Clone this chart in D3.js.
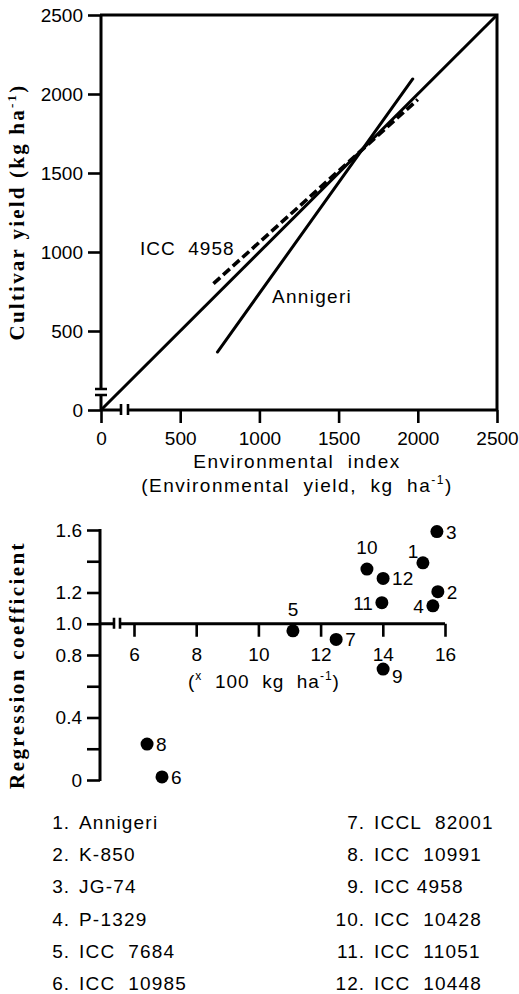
<!DOCTYPE html>
<html>
<head>
<meta charset="utf-8">
<script src="https://cdn.jsdelivr.net/npm/d3@7/dist/d3.min.js"></script>
<style>
  html, body { margin: 0; padding: 0; background: #fff; }
  svg { display: block; }
  text { font-family: "Liberation Sans", Arial, sans-serif; fill: #000; }
  .title { font-family: "Liberation Serif", "Times New Roman", serif; font-weight: bold; }
</style>
</head>
<body>
<svg id="chart" width="519" height="994"></svg>
<script>
// ---- Upper panel: cultivar yield vs environmental index ----
const topTicks = [0, 500, 1000, 1500, 2000, 2500];
const lineLabels = ["ICC 4958", "Annigeri"];
const equalityLine = [[0, 0], [2500, 2500]];
const icc4958Line = [[710, 800], [2000, 1965]];
const annigeriLine = [[735, 367], [1968, 2095]];

// ---- Lower panel: regression coefficient vs mean yield ----
const cultivarIds = [1, 2, 3, 4, 5, 6, 7, 8, 9, 10, 11, 12];
const cultivarNames = ["Annigeri", "K-850", "JG-74", "P-1329", "ICC  7684", "ICC  10985",
  "ICCL  82001", "ICC  10991", "ICC 4958", "ICC  10428", "ICC  11051", "ICC  10448"];
const meanYield = [15.29, 15.77, 15.74, 15.61, 11.11, 6.90, 12.50, 6.42, 14.01, 13.49, 13.97, 14.01];
const regCoef = [1.39, 1.205, 1.59, 1.115, 0.955, 0.02, 0.90, 0.23, 0.71, 1.35, 1.135, 1.29];
const bottomXTicks = [6, 8, 10, 12, 14, 16];
const bottomYTicks = [0, 0.2, 0.4, 0.6, 0.8, 1.0, 1.2, 1.4, 1.6];
const bottomYLabelled = [0, 0.4, 0.8, 1.0, 1.2, 1.6];

// where each point's number sits relative to its dot
const labelSide = ["aboveLeft", "right", "right", "left", "above", "right",
  "right", "right", "belowRight", "above", "left", "right"];

const svg = d3.select("#chart");
const ink = "#000";
const nb = s => s.replace(/ /g, "\u00a0");

function styleAxis(g, size) {
  g.select(".domain").remove();
  g.selectAll(".tick line").attr("stroke", ink).attr("stroke-width", 2.6);
  g.selectAll(".tick text").attr("font-size", size).attr("fill", ink)
    .attr("font-family", "Liberation Sans, Arial, sans-serif");
}

// ===== upper panel =====
const xT = d3.scaleLinear().domain([0, 2500]).range([101, 497]);
const yT = d3.scaleLinear().domain([0, 2500]).range([410, 15]);
const upper = svg.append("g");

upper.append("g").attr("transform", `translate(${xT(0)},0)`)
  .call(d3.axisLeft(yT).tickValues(topTicks).tickSize(13).tickPadding(5).tickFormat(d3.format("d")))
  .call(g => styleAxis(g, 19));
upper.append("g").attr("transform", `translate(0,${yT(0)})`)
  .call(d3.axisBottom(xT).tickValues(topTicks).tickSize(13).tickPadding(9).tickFormat(d3.format("d")))
  .call(g => styleAxis(g, 19));

const frame = d3.path();
// left axis with break near the origin
frame.moveTo(xT(0), yT(0)); frame.lineTo(xT(0), 395);
frame.moveTo(xT(0), 389); frame.lineTo(xT(0), yT(2500));
// bottom axis with break near the origin
frame.moveTo(xT(0), yT(0)); frame.lineTo(121, yT(0));
frame.moveTo(128, yT(0)); frame.lineTo(xT(2500), yT(0));
// top and right border
frame.moveTo(xT(0) - 1, yT(2500)); frame.lineTo(xT(2500), yT(2500)); frame.lineTo(xT(2500), yT(0));
upper.append("path").attr("d", frame.toString()).attr("fill", "none")
  .attr("stroke", ink).attr("stroke-width", 3);

const breaks = d3.path();
breaks.moveTo(95, 389); breaks.lineTo(107, 389);
breaks.moveTo(95, 395); breaks.lineTo(107, 395);
breaks.moveTo(121, yT(0) - 6); breaks.lineTo(121, yT(0) + 5);
breaks.moveTo(128, yT(0) - 6); breaks.lineTo(128, yT(0) + 5);
upper.append("path").attr("d", breaks.toString()).attr("fill", "none")
  .attr("stroke", ink).attr("stroke-width", 2.6);

const line = d3.line().x(d => xT(d[0])).y(d => yT(d[1]));
upper.append("path").datum(equalityLine).attr("d", line)
  .attr("fill", "none").attr("stroke", ink).attr("stroke-width", 3);
upper.append("path").datum(annigeriLine).attr("d", line)
  .attr("fill", "none").attr("stroke", ink).attr("stroke-width", 3).attr("stroke-linecap", "round");
upper.append("path").datum(icc4958Line).attr("d", line)
  .attr("fill", "none").attr("stroke", ink).attr("stroke-width", 3.6)
  .attr("stroke-dasharray", "9,4");

upper.append("text").attr("x", 140).attr("y", 255).attr("font-size", 19)
  .attr("letter-spacing", 1).text(nb(lineLabels[0].replace(" ", "  ")));
upper.append("text").attr("x", 272).attr("y", 303).attr("font-size", 19)
  .attr("letter-spacing", 1.3).text(lineLabels[1]);

upper.append("text").attr("x", 297).attr("y", 468).attr("text-anchor", "middle")
  .attr("font-size", 19).attr("letter-spacing", 1.5).text(nb("Environmental  index"));
const sub = upper.append("text").attr("x", 297).attr("y", 492).attr("text-anchor", "middle")
  .attr("font-size", 19).attr("letter-spacing", 1.5);
sub.append("tspan").text(nb("(Environmental  yield,  kg  ha"));
sub.append("tspan").attr("font-size", 12).attr("dy", -8).text("-1");
sub.append("tspan").attr("dy", 8).text(")");

const yTitle = upper.append("text").attr("class", "title")
  .attr("transform", "translate(24,212) rotate(-90)").attr("text-anchor", "middle")
  .attr("font-size", 21).attr("letter-spacing", 2.2);
yTitle.append("tspan").text(nb("Cultivar yield (kg ha"));
yTitle.append("tspan").attr("font-size", 13).attr("dy", -8).text("-1");
yTitle.append("tspan").attr("dy", 8).text(")");

// ===== lower panel =====
const xB = d3.scaleLinear().domain([6, 16]).range([134, 445]);
const yB = d3.scaleLinear().domain([0, 1.6]).range([780, 530]);
const lower = svg.append("g");

lower.append("g").attr("transform", `translate(100,0)`)
  .call(d3.axisLeft(yB).tickValues(bottomYTicks).tickSize(13).tickPadding(5)
    .tickFormat(v => bottomYLabelled.some(t => Math.abs(t - v) < 1e-9) ? (v === 0 ? "0" : v.toFixed(1)) : ""))
  .call(g => styleAxis(g, 19));
lower.append("g").attr("transform", `translate(0,${yB(1.0)})`)
  .call(d3.axisBottom(xB).tickValues(bottomXTicks).tickSize(13).tickPadding(11))
  .call(g => styleAxis(g, 19));

const bFrame = d3.path();
bFrame.moveTo(100, yB(1.6) - 1); bFrame.lineTo(100, yB(0) + 1);
bFrame.moveTo(100, yB(1.0)); bFrame.lineTo(114, yB(1.0));
bFrame.moveTo(120, yB(1.0)); bFrame.lineTo(xB(16), yB(1.0));
lower.append("path").attr("d", bFrame.toString()).attr("fill", "none")
  .attr("stroke", ink).attr("stroke-width", 3);
const bBreaks = d3.path();
bBreaks.moveTo(114, yB(1.0) - 6); bBreaks.lineTo(114, yB(1.0) + 5);
bBreaks.moveTo(120, yB(1.0) - 6); bBreaks.lineTo(120, yB(1.0) + 5);
lower.append("path").attr("d", bBreaks.toString()).attr("fill", "none")
  .attr("stroke", ink).attr("stroke-width", 2.6);

const unit = lower.append("text").attr("x", 188).attr("y", 688).attr("font-size", 19)
  .attr("letter-spacing", 1);
unit.append("tspan").text("(");
unit.append("tspan").attr("font-size", 12).attr("dy", -8).text("x");
unit.append("tspan").attr("dy", 8).text(nb("  100  kg  ha"));
unit.append("tspan").attr("font-size", 12).attr("dy", -8).text("-1");
unit.append("tspan").attr("dy", 8).text(")");

const points = cultivarIds.map((id, i) => ({ id, x: meanYield[i], y: regCoef[i], side: labelSide[i] }));
lower.selectAll("circle.pt").data(points).join("circle").attr("class", "pt")
  .attr("cx", d => xB(d.x)).attr("cy", d => yB(d.y)).attr("r", 6.5).attr("fill", ink);

const offsets = {
  right: [9, 7, "start"], left: [-9, 7, "end"], above: [0, -15, "middle"],
  aboveLeft: [-10, -5, "middle"], belowRight: [9, 14, "start"]
};
lower.selectAll("text.pl").data(points).join("text").attr("class", "pl")
  .attr("x", d => xB(d.x) + offsets[d.side][0])
  .attr("y", d => yB(d.y) + offsets[d.side][1])
  .attr("text-anchor", d => offsets[d.side][2])
  .attr("font-size", 19).text(d => d.id);

lower.append("text").attr("class", "title")
  .attr("transform", "translate(24,665) rotate(-90)").attr("text-anchor", "middle")
  .attr("font-size", 21).attr("letter-spacing", 2.4).text("Regression coefficient");

// ===== key to cultivar numbers =====
const key = svg.append("g");
const rowY = i => 829 + 32.2 * (i % 6);
key.selectAll("text.num").data(cultivarIds).join("text").attr("class", "num")
  .attr("x", (d, i) => i < 6 ? 70 : 365).attr("y", (d, i) => rowY(i))
  .attr("text-anchor", "end").attr("font-size", 19).attr("letter-spacing", 1)
  .text(d => d + ".");
key.selectAll("text.nm").data(cultivarNames).join("text").attr("class", "nm")
  .attr("x", (d, i) => i < 6 ? 79 : 374).attr("y", (d, i) => rowY(i))
  .attr("font-size", 19).attr("letter-spacing", 1.2)
  .text(d => nb(d));
</script>
</body>
</html>
